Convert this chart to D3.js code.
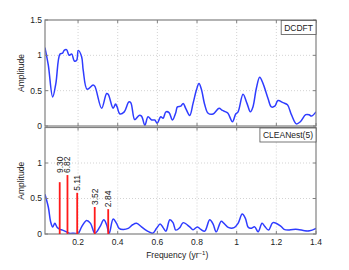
<!DOCTYPE html>
<html>
<head>
<meta charset="utf-8">
<script src="https://cdn.jsdelivr.net/npm/d3@7"></script>
<style>
  body { margin: 0; background: #fff; }
  svg { font-family: "Liberation Sans", Arial, sans-serif; }
</style>
</head>
<body>
<svg id="chart" width="349" height="270"></svg>
<script>
var freqMin = 1 / 30;
var freqMax = 1.4;

var xTicks = [0.2, 0.4, 0.6, 0.8, 1, 1.2, 1.4];
var yTicksTop = [0, 0.5, 1, 1.5];
var yTicksBottom = [0, 0.5, 1];

// DCDFT amplitude spectrum
var dcdftFreq = [0.033, 0.050, 0.072, 0.088, 0.109, 0.122, 0.130, 0.142, 0.155, 0.168,
  0.181, 0.193, 0.201, 0.218, 0.226, 0.246, 0.276, 0.285, 0.319, 0.344,
  0.352, 0.377, 0.389, 0.397, 0.411, 0.433, 0.456, 0.466, 0.486, 0.508,
  0.520, 0.537, 0.553, 0.571, 0.587, 0.599, 0.617, 0.629, 0.643, 0.659,
  0.676, 0.693, 0.701, 0.718, 0.730, 0.743, 0.763, 0.780, 0.797, 0.810,
  0.822, 0.839, 0.856, 0.881, 0.911, 0.928, 0.945, 0.956, 0.979, 0.995,
  1.007, 1.032, 1.052, 1.069, 1.082, 1.099, 1.116, 1.133, 1.158, 1.175,
  1.192, 1.208, 1.234, 1.256, 1.276, 1.301, 1.321, 1.348, 1.365, 1.377, 1.400];
var dcdftAmp = [1.11, 0.86, 0.41, 0.60, 1.02, 1.03, 1.07, 1.08, 1.00, 1.02,
  0.92, 0.93, 1.07, 0.98, 0.79, 0.52, 0.58, 0.56, 0.25, 0.46,
  0.45, 0.25, 0.31, 0.27, 0.17, 0.20, 0.34, 0.33, 0.09, 0.15,
  0.14, 0.01, 0.13, 0.085, 0.085, 0.04, 0.13, 0.11, 0.20, 0.19,
  0.085, 0.19, 0.27, 0.28, 0.32, 0.25, 0.15, 0.32, 0.51, 0.60,
  0.52, 0.30, 0.18, 0.17, 0.25, 0.22, 0.20, 0.18, 0.06, 0.17,
  0.20, 0.45, 0.32, 0.20, 0.27, 0.53, 0.69, 0.60, 0.39, 0.27,
  0.28, 0.36, 0.33, 0.30, 0.16, 0.03, 0.06, 0.16, 0.16, 0.14, 0.20];

// residual spectrum after CLEANest
var cleanFreq = [0.033, 0.050, 0.062, 0.072, 0.083, 0.095, 0.109, 0.122, 0.142, 0.155,
  0.179, 0.201, 0.218, 0.243, 0.263, 0.285, 0.310, 0.330, 0.344, 0.357,
  0.377, 0.394, 0.407, 0.427, 0.453, 0.475, 0.495, 0.520, 0.542, 0.558,
  0.576, 0.596, 0.614, 0.629, 0.643, 0.663, 0.679, 0.693, 0.713, 0.730,
  0.763, 0.780, 0.802, 0.819, 0.839, 0.864, 0.881, 0.897, 0.922, 0.936,
  0.960, 0.987, 1.007, 1.028, 1.044, 1.057, 1.071, 1.091, 1.108, 1.128,
  1.141, 1.161, 1.183, 1.222, 1.239, 1.259, 1.284, 1.309, 1.343, 1.368, 1.400];
var cleanAmp = [0.56, 0.38, 0.17, 0.10, 0.15, 0.09, 0.065, 0.055, 0.03, 0.01,
  0.01, 0.01, 0.10, 0.19, 0.15, 0.01, 0.10, 0.20, 0.13, 0.01,
  0.21, 0.15, 0.08, 0.065, 0.08, 0.13, 0.15, 0.10, 0.055, 0.03,
  0.01, 0.08, 0.14, 0.09, 0.04, 0.20, 0.16, 0.055, 0.09, 0.16,
  0.10, 0.06, 0.10, 0.065, 0.04, 0.20, 0.14, 0.03, 0.18, 0.15,
  0.09, 0.09, 0.15, 0.28, 0.22, 0.10, 0.08, 0.10, 0.03, 0.15,
  0.11, 0.055, 0.16, 0.11, 0.065, 0.055, 0.065, 0.065, 0.045, 0.045, 0.08];

// CLEANest peaks: period (yr) and amplitude
var peakPeriods = ["9.30", "6.82", "5.11", "3.52", "2.84"];
var peakAmps = [0.73, 0.83, 0.58, 0.38, 0.35];

var svg = d3.select("#chart");
var left = 45, right = 316;
var axisColor = "#808080";

var x = d3.scaleLinear().domain([freqMin, freqMax]).range([left, right]);

function drawPanel(top, bottom, yTicks, name, freqs, amps) {
  var y = d3.scaleLinear().domain([0, 1.5]).range([bottom, top]);
  var g = svg.append("g");
  var clipId = "clip" + Math.round(top);

  g.append("clipPath").attr("id", clipId)
    .append("rect")
    .attr("x", left).attr("y", top)
    .attr("width", right - left).attr("height", bottom - top);

  // grid
  g.selectAll("line.vgrid")
    .data(xTicks.filter(function(d) { return d < freqMax; }))
    .enter().append("line")
    .attr("x1", function(d) { return x(d); })
    .attr("x2", function(d) { return x(d); })
    .attr("y1", top).attr("y2", bottom)
    .attr("stroke", "#c8c8c8").attr("stroke-width", 0.8)
    .attr("stroke-dasharray", "1,2");

  g.selectAll("line.hgrid")
    .data([0.5, 1])
    .enter().append("line")
    .attr("x1", left).attr("x2", right)
    .attr("y1", function(d) { return y(d); })
    .attr("y2", function(d) { return y(d); })
    .attr("stroke", "#c8c8c8").attr("stroke-width", 0.8)
    .attr("stroke-dasharray", "1,2");

  // curve
  var line = d3.line()
    .x(function(d) { return x(d[0]); })
    .y(function(d) { return y(d[1]); })
    .curve(d3.curveCatmullRom.alpha(0.5));

  g.append("path")
    .datum(d3.zip(freqs, amps))
    .attr("clip-path", "url(#" + clipId + ")")
    .attr("d", line)
    .attr("fill", "none")
    .attr("stroke", "#2f3cff")
    .attr("stroke-width", 1.5);

  // box and ticks
  g.append("rect")
    .attr("x", left).attr("y", top)
    .attr("width", right - left).attr("height", bottom - top)
    .attr("fill", "none").attr("stroke", axisColor).attr("stroke-width", 1.2);

  g.selectAll("line.xt")
    .data(xTicks)
    .enter().append("line")
    .attr("x1", function(d) { return x(d); })
    .attr("x2", function(d) { return x(d); })
    .attr("y1", bottom).attr("y2", bottom - 3)
    .attr("stroke", axisColor);

  g.selectAll("line.xt2")
    .data(xTicks)
    .enter().append("line")
    .attr("x1", function(d) { return x(d); })
    .attr("x2", function(d) { return x(d); })
    .attr("y1", top).attr("y2", top + 3)
    .attr("stroke", axisColor);

  g.selectAll("line.yt")
    .data(yTicksTop)
    .enter().append("line")
    .attr("x1", left).attr("x2", left + 3)
    .attr("y1", function(d) { return y(d); })
    .attr("y2", function(d) { return y(d); })
    .attr("stroke", axisColor);

  g.selectAll("line.yt2")
    .data(yTicksTop)
    .enter().append("line")
    .attr("x1", right).attr("x2", right - 3)
    .attr("y1", function(d) { return y(d); })
    .attr("y2", function(d) { return y(d); })
    .attr("stroke", axisColor);

  g.selectAll("text.ylab")
    .data(yTicks)
    .enter().append("text")
    .attr("x", left - 3)
    .attr("y", function(d) { return y(d); })
    .attr("dy", "0.35em")
    .attr("text-anchor", "end")
    .attr("font-size", 8.5)
    .attr("fill", "#222")
    .text(function(d) { return d; });

  g.append("text")
    .attr("transform", "translate(24," + ((top + bottom) / 2) + ") rotate(-90)")
    .attr("text-anchor", "middle")
    .attr("font-size", 8.5)
    .attr("fill", "#222")
    .text("Amplitude");

  // legend box
  var lg = g.append("g");
  var lt = lg.append("text")
    .attr("x", right - 3).attr("y", top + 10.5)
    .attr("text-anchor", "end")
    .attr("font-size", 8.5)
    .attr("fill", "#222")
    .text(name);
  var w = lt.node().getComputedTextLength();
  lg.insert("rect", "text")
    .attr("x", right - w - 6).attr("y", top + 0.5)
    .attr("width", w + 6).attr("height", 14)
    .attr("fill", "#fff").attr("stroke", "#555").attr("stroke-width", 0.8);

  return { g: g, y: y };
}

var topPanel = drawPanel(20, 126, yTicksTop, "DCDFT", dcdftFreq, dcdftAmp);
var bottomPanel = drawPanel(127.5, 234, yTicksBottom, "CLEANest(5)", cleanFreq, cleanAmp);

// x tick labels on bottom panel
svg.selectAll("text.xlab")
  .data(xTicks)
  .enter().append("text")
  .attr("x", function(d) { return x(d); })
  .attr("y", 244.5)
  .attr("text-anchor", "middle")
  .attr("font-size", 8.5)
  .attr("fill", "#222")
  .text(function(d) { return d; });

var xl = svg.append("text")
  .attr("x", x(0.7)).attr("y", 258)
  .attr("text-anchor", "middle")
  .attr("font-size", 8.5)
  .attr("fill", "#222");
xl.append("tspan").text("Frequency (yr");
xl.append("tspan").attr("dy", -3).attr("font-size", 6).text("\u22121");
xl.append("tspan").attr("dy", 3).text(")");

// CLEANest peaks
var yb = bottomPanel.y;
var peaks = peakPeriods.map(function(p, i) {
  return { label: p, f: 1 / +p, a: peakAmps[i] };
});

svg.selectAll("line.peak")
  .data(peaks)
  .enter().append("line")
  .attr("x1", function(d) { return x(d.f); })
  .attr("x2", function(d) { return x(d.f); })
  .attr("y1", yb(0))
  .attr("y2", function(d) { return yb(d.a); })
  .attr("stroke", "#ff1a1a")
  .attr("stroke-width", 1.8);

// labels sit above the tallest close neighbour so they do not overlap
svg.selectAll("text.peak")
  .data(peaks)
  .enter().append("text")
  .attr("transform", function(d) {
    var a = d3.max(peaks.filter(function(p) { return Math.abs(p.f - d.f) < 0.045; }),
      function(p) { return p.a; });
    return "translate(" + (x(d.f) + 3) + "," + (yb(a) - 2) + ") rotate(-90)";
  })
  .attr("font-size", 8.5)
  .attr("fill", "#222")
  .text(function(d) { return d.label; });
</script>
</body>
</html>
